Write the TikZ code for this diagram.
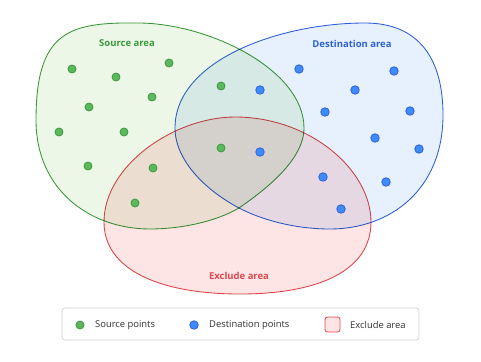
\documentclass[tikz,border=0pt]{standalone}
\usepackage{fontspec}
\setmainfont{Open Sans}
\begin{document}
\begin{tikzpicture}[x=1pt,y=-1pt,
  srcpt/.style={circle,draw=srcline,fill=srcdot,line width=0.8pt,inner sep=0pt,minimum size=8pt},
  dstpt/.style={circle,draw=dstline,fill=dstdot,line width=0.8pt,inner sep=0pt,minimum size=8.5pt},
  area/.style={line width=0.85pt},
  arealabel/.style={font=\bfseries\fontsize{9.5}{11}\selectfont},
  legtext/.style={font=\fontsize{9.4}{11}\selectfont,text=black!80,anchor=west,inner sep=0pt}]
\definecolor{srcline}{HTML}{3A9A3A}
\definecolor{srcfill}{HTML}{EDF7E7}
\definecolor{srcdot}{HTML}{5CB85C}
\definecolor{dstline}{HTML}{2F62D8}
\definecolor{dstfill}{HTML}{E7F1FD}
\definecolor{dstdot}{HTML}{3D8BFD}
\definecolor{exline}{HTML}{E0474C}
\definecolor{exfill}{HTML}{FDE5E5}
\useasboundingbox (0,0) rectangle (481,361);
\fill[white] (0,0) rectangle (481,361);
\begin{scope}[blend group=multiply]
\filldraw[area,draw=srcline,fill=srcfill] (36,120)
  .. controls (36,30) and (70,22) .. (140,23)
  .. controls (210,24) and (304,70) .. (304,128)
  .. controls (304,160) and (265,190) .. (239,208)
  .. controls (215,222) and (180,229) .. (150,229)
  .. controls (90,229) and (36,190) .. (36,120) -- cycle;
\filldraw[area,draw=dstline,fill=dstfill] (175,128)
  .. controls (175,60) and (280,23) .. (365,23)
  .. controls (420,23) and (443,60) .. (443,115)
  .. controls (443,190) and (390,229) .. (330,229)
  .. controls (295,229) and (262,220) .. (239,208)
  .. controls (205,190) and (175,160) .. (175,128) -- cycle;
\filldraw[area,draw=exline,fill=exfill] (104,222)
  .. controls (104,165) and (175,117) .. (235,117)
  .. controls (310,117) and (371,170) .. (371,222)
  .. controls (371,270) and (320,294) .. (240,294)
  .. controls (160,294) and (104,270) .. (104,222) -- cycle;
\end{scope}
\node[arealabel,text=srcline] (srclab) at (127,43) {Source area};
\node[arealabel,text=dstline] (dstlab) at (352,44) {Destination area};
\node[arealabel,text=exline] (exlab) at (239,276) {Exclude area};
% source points
\node[srcpt] (s1) at (72,69) {};
\node[srcpt] (s2) at (116,77) {};
\node[srcpt] (s3) at (169,63) {};
\node[srcpt] (s4) at (152,97) {};
\node[srcpt] (s5) at (89,107) {};
\node[srcpt] (s6) at (59,132) {};
\node[srcpt] (s7) at (124,132) {};
\node[srcpt] (s8) at (88,166) {};
\node[srcpt] (s9) at (153,168) {};
\node[srcpt] (s10) at (135,203) {};
\node[srcpt] (s11) at (221,86) {};
\node[srcpt] (s12) at (221,148) {};
% destination points
\node[dstpt] (d1) at (299,69) {};
\node[dstpt] (d2) at (394,71) {};
\node[dstpt] (d3) at (260,90) {};
\node[dstpt] (d4) at (355,90) {};
\node[dstpt] (d5) at (325,112) {};
\node[dstpt] (d6) at (410,111) {};
\node[dstpt] (d7) at (375,138) {};
\node[dstpt] (d8) at (419,149) {};
\node[dstpt] (d9) at (260,152) {};
\node[dstpt] (d10) at (323,177) {};
\node[dstpt] (d11) at (386,182) {};
\node[dstpt] (d12) at (341,209) {};
% legend
\node[draw=black!18,fill=white,rounded corners=3pt,line width=0.7pt,minimum width=357pt,minimum height=32pt,inner sep=0pt] (legend) at (240.5,324) {};
\node[srcpt] (ls) at (80,325) {};
\node[legtext] (lst) at (95,325) {Source points};
\node[dstpt] (ld) at (194,325) {};
\node[legtext] (ldt) at (209,325) {Destination points};
\node[draw=exline,fill=exfill,rounded corners=2.5pt,line width=0.8pt,minimum size=15pt,inner sep=0pt] (le) at (332.5,324.5) {};
\node[legtext] (let) at (350,325) {Exclude area};
\end{tikzpicture}
\end{document}
